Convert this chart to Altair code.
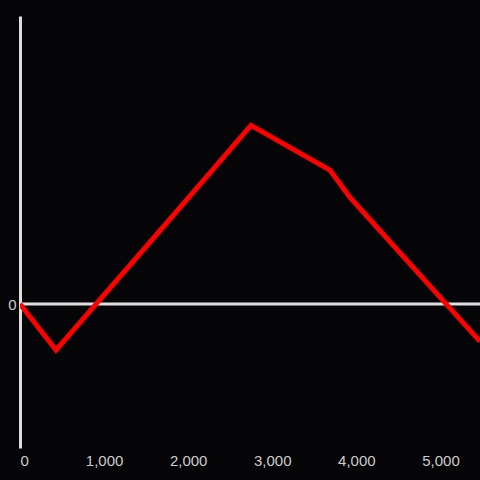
import altair as alt
import pandas as pd
import jinja2

x_vals = [0, 428, 1665, 2747, 3686, 3924, 5470]
y_vals = [0, -32, 51, 124, 93, 74, -26]
x_ticks = [0, 1000, 2000, 3000, 4000, 5000]

df = pd.DataFrame({"x": x_vals, "y": y_vals})
zero = pd.DataFrame({"y": [0]})

xs = alt.Scale(domain=[0, 5470], nice=False, zero=False)
ys = alt.Scale(domain=[-100, 200], nice=False, zero=False)

line = alt.Chart(df).mark_line(color="#ff0000", strokeWidth=5, clip=True).encode(
    x=alt.X("x:Q", scale=xs, title=None,
            axis=alt.Axis(values=x_ticks, domain=False, ticks=False, grid=False,
                          labelColor="#cccccc", labelFontSize=15, labelPadding=5,
                          labelFont="Liberation Sans", format=",.0f")),
    y=alt.Y("y:Q", scale=ys, title=None,
            axis=alt.Axis(values=[0], domain=True, domainColor="#dddddd", domainWidth=3,
                          ticks=False, grid=False, labelColor="#cccccc", labelFontSize=15,
                          labelPadding=4, labelFont="Liberation Sans")),
)

rule = alt.Chart(zero).mark_rule(color="#e0e0e0", strokeWidth=3).encode(
    y=alt.Y("y:Q", scale=ys)
)

chart = alt.layer(rule, line).properties(
    width=460, height=432,
    autosize=alt.AutoSizeParams(type="none"),
    padding={"left": 20, "top": 16, "right": 0, "bottom": 32},
    background="#050407",
).configure_view(stroke=None)

PAGE = jinja2.Template("""<!DOCTYPE html>
<html>
<head>
  <style>
    html, body { margin: 0; padding: 0; background: #050407; overflow: hidden; }
    #{{ output_div }}.vega-embed { width: 100%; display: flex; }
  </style>
  <script type="text/javascript" src="{{ base_url }}/vega@{{ vega_version }}"></script>
  <script type="text/javascript" src="{{ base_url }}/vega-lite@{{ vegalite_version }}"></script>
  <script type="text/javascript" src="{{ base_url }}/vega-embed@{{ vegaembed_version }}"></script>
</head>
<body>
  <div id="{{ output_div }}"></div>
  <script>
    (function(vegaEmbed) {
      var spec = {{ spec }};
      var embedOpt = {{ embed_options }};
      vegaEmbed("#{{ output_div }}", spec, embedOpt);
    })(vegaEmbed);
  </script>
</body>
</html>""")

chart.save("out.html", embed_options={"renderer": "svg", "actions": False}, template=PAGE)
